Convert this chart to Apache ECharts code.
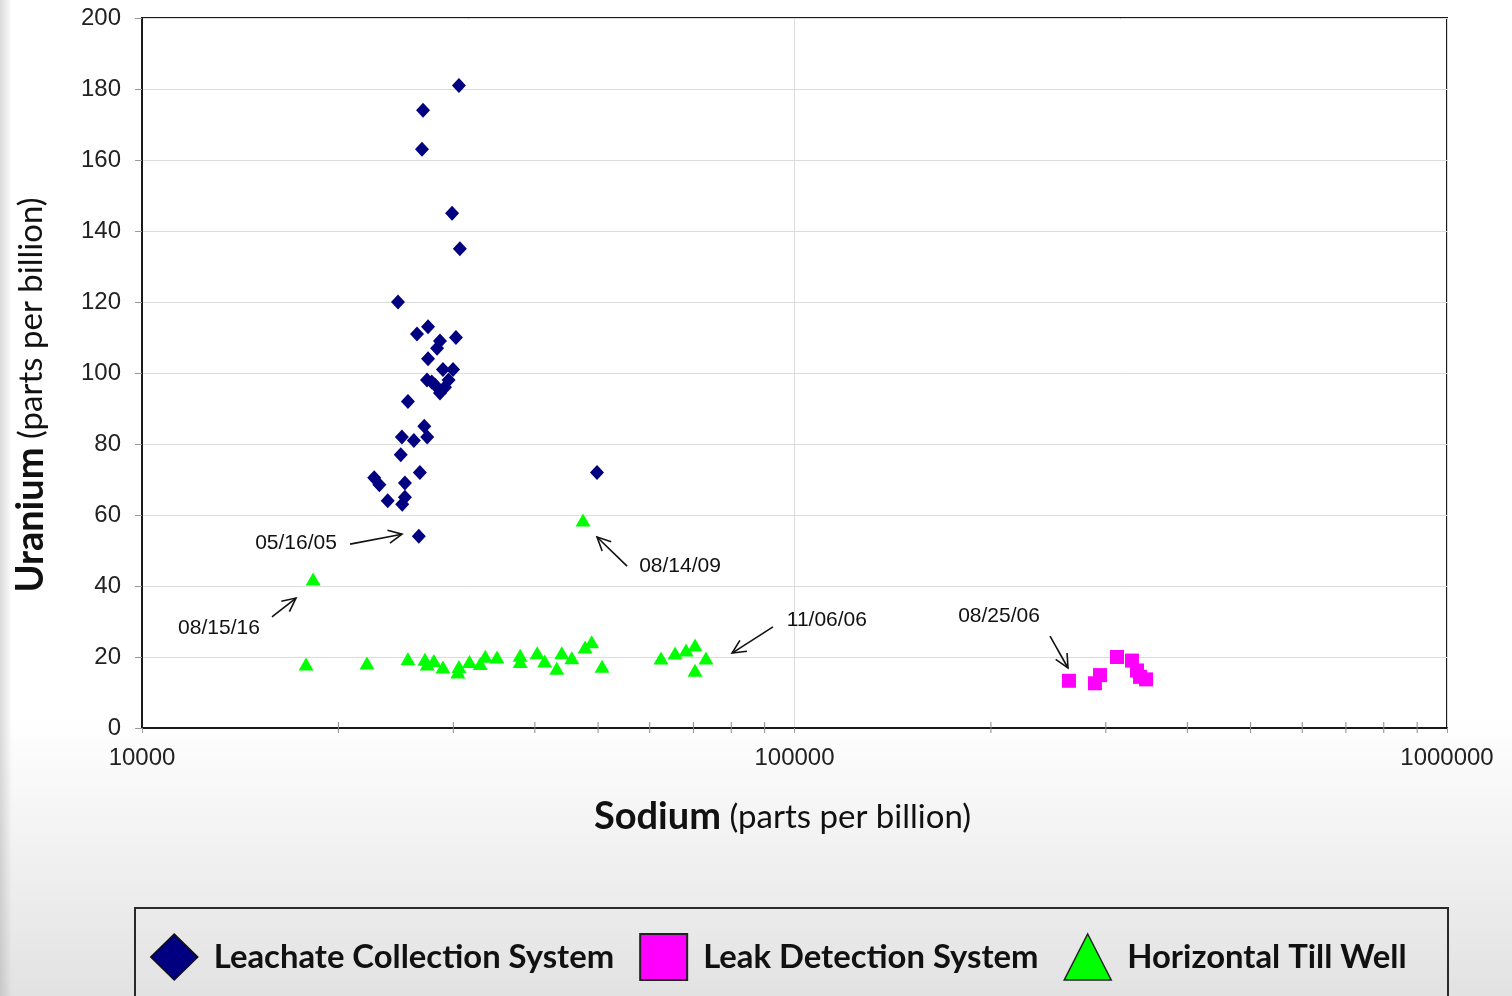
<!DOCTYPE html>
<html>
<head>
<meta charset="utf-8">
<script src="https://cdn.jsdelivr.net/npm/echarts@6/dist/echarts.min.js"></script>
<style>
html,body{margin:0;padding:0;width:1512px;height:996px;overflow:hidden;background:#fff;}
#chart{width:1512px;height:996px;}
</style>
</head>
<body>
<div id="chart"></div>
<script>
// ---- Data ----
const seriesNames = ['Leachate Collection System', 'Leak Detection System', 'Horizontal Till Well'];

const leachateSodium = [30600, 26960, 26860, 29870, 30700, 24680, 27440, 26390, 30280, 28620, 28330, 27440, 29970, 28920,
  27340, 28120, 29130, 28620, 27800, 29500, 25560, 27080, 27360, 25020, 26100, 24920, 26660, 22690, 23110, 25290,
  25290, 23800, 25050, 26560, 49810];
const leachateUranium = [181, 174, 163, 145, 135, 120, 113, 111, 110, 109, 107, 104, 101, 101,
  98, 96.6, 96, 94.4, 97.5, 98, 92, 85, 82, 82, 81, 77, 72, 70.5, 68.5, 69,
  65, 64, 63, 54, 72];

const leakSodium = [263400, 288700, 293900, 312100, 329000, 334900, 338500, 345800];
const leakUranium = [13.3, 12.6, 14.9, 20, 19, 16.2, 14.4, 13.7];

const tillSodium = [18290, 17840, 22120, 25560, 27140, 27360, 28010, 28920, 30600, 30480, 31760, 32990, 33580, 35000,
  37980, 37980, 40330, 41410, 43990, 43220, 45570, 47760, 48880, 50710, 47410,
  62430, 65610, 68200, 70400, 73170, 70400];
const tillUranium = [42, 18, 18.3, 19.5, 19.4, 18, 19, 17.2, 17.3, 15.8, 18.7, 18.2, 20.2, 20,
  20.5, 18.7, 21.2, 18.9, 21.2, 16.8, 19.8, 22.8, 24.3, 17.4, 58.6,
  19.7, 21.1, 22, 23.4, 19.7, 16.3];

// Annotations (data coordinates)
const annLabels = ['05/16/05', '08/14/09', '08/15/16', '11/06/06', '08/25/06'];
const annTextX = [17220, 66770, 13120, 112100, 205800];
const annTextY = [52.1, 45.6, 28.2, 30.4, 31.5];
const arrowFromX = [20840, 55380, 15820, 92690, 246400];
const arrowFromY = [51.8, 45.6, 31.3, 28.5, 25.9];
const arrowToX = [25030, 49810, 17220, 80230, 262500];
const arrowToY = [54.6, 53.8, 36.6, 21.1, 16.9];

// Axis ticks
const xMin = 10000, xMax = 1000000;
const yMin = 0, yMax = 200, yInterval = 20;
const minorTickValues = [20000, 30000, 40000, 50000, 60000, 70000, 80000, 90000,
  200000, 300000, 400000, 500000, 600000, 700000, 800000, 900000];

// ---- Build ----
const zip = (a, b) => a.map((v, i) => [v, b[i]]);
const colors = ['#000080', '#ff00ff', '#00ff00'];
const sansCal = 'Lato, "Open Sans", sans-serif';
const sansAr = '"Liberation Sans", Arial, sans-serif';

const chart = echarts.init(document.getElementById('chart'), null, {renderer: 'canvas'});

const titleRich = {
  b: {fontFamily: sansCal, fontWeight: 'bold', fontSize: 38, color: '#111'},
  n: {fontFamily: sansCal, fontWeight: 'normal', fontSize: 33, color: '#111'}
};

const option = {
  animation: false,
  backgroundColor: {
    type: 'linear', x: 0, y: 0, x2: 0, y2: 1,
    colorStops: [
      {offset: 0, color: '#ffffff'},
      {offset: 0.72, color: '#ffffff'},
      {offset: 1, color: '#e2e2e2'}
    ]
  },
  grid: {
    left: 142, right: 65, top: 18, bottom: 268,
    show: true, backgroundColor: '#ffffff', borderColor: '#1a1a1a', borderWidth: 2
  },
  xAxis: {
    type: 'log', logBase: 10, min: xMin, max: xMax,
    name: '{b|Sodium}{n| (parts per billion)}',
    nameLocation: 'middle', nameGap: 70,
    nameTextStyle: {rich: titleRich, padding: [0, 24, 0, 0]},
    axisLine: {show: true, lineStyle: {color: '#1a1a1a', width: 2}},
    axisTick: {show: true, length: 5, lineStyle: {color: '#999'}},
    axisLabel: {
      fontFamily: sansAr, fontSize: 24, color: '#222', margin: 18,
      formatter: v => String(Math.round(v))
    },
    splitLine: {show: true, lineStyle: {color: '#dcdcdc', width: 1}},
    minorTick: {show: false}
  },
  yAxis: {
    type: 'value', min: yMin, max: yMax, interval: yInterval,
    name: '{b|Uranium}{n| (parts per billion)}',
    nameLocation: 'middle', nameGap: 92,
    nameTextStyle: {rich: titleRich, padding: [0, 44, 0, 0]},
    axisLine: {show: true, lineStyle: {color: '#1a1a1a', width: 2}},
    axisTick: {show: true, length: 7, lineStyle: {color: '#999'}},
    axisLabel: {fontFamily: sansAr, fontSize: 24, color: '#222', margin: 21},
    splitLine: {show: true, lineStyle: {color: '#dcdcdc', width: 1}}
  },
  legend: {
    show: true,
    left: 150, top: 933, padding: 0,
    orient: 'horizontal',
    itemWidth: 47, itemHeight: 46, itemGap: 25,
    textStyle: {fontFamily: sansCal, fontWeight: 'bold', fontSize: 32.8, color: '#111', padding: [0, 0, 0, 11]},
    data: [
      {name: seriesNames[0], icon: 'diamond', itemStyle: {color: colors[0], opacity: 1, borderColor: '#111', borderWidth: 1.5}},
      {name: seriesNames[1], icon: 'rect', itemStyle: {color: colors[1], opacity: 1, borderColor: '#222', borderWidth: 2}},
      {name: seriesNames[2], icon: 'triangle', itemStyle: {color: colors[2], opacity: 1, borderColor: '#222', borderWidth: 1.5}}
    ],
    selectedMode: false
  },
  graphic: [
    {
      type: 'rect', left: 134, top: 907, z: 0, silent: true,
      shape: {width: 1313, height: 130},
      style: {fill: 'transparent', stroke: '#2a2a2a', lineWidth: 2}
    },
    {
      type: 'rect', left: 0, top: 0, z: -1, silent: true,
      shape: {width: 12, height: 996},
      style: {
        fill: {
          type: 'linear', x: 0, y: 0, x2: 1, y2: 0,
          colorStops: [{offset: 0, color: 'rgba(150,150,150,0.35)'}, {offset: 1, color: 'rgba(150,150,150,0)'}]
        }
      }
    }
  ],
  series: [
    {
      name: seriesNames[1], type: 'scatter', symbol: 'rect', symbolSize: 14,
      itemStyle: {color: colors[1], opacity: 1}, data: zip(leakSodium, leakUranium), z: 3
    },
    {
      name: seriesNames[2], type: 'scatter', symbol: 'triangle', symbolSize: [15, 13],
      itemStyle: {color: colors[2], opacity: 1}, data: zip(tillSodium, tillUranium), z: 3
    },
    {
      name: seriesNames[0], type: 'scatter', symbol: 'diamond', symbolSize: [14, 15],
      itemStyle: {color: colors[0], opacity: 1}, data: zip(leachateSodium, leachateUranium), z: 4
    },
    {
      name: 'minorTicks', type: 'custom', silent: true, z: 5,
      data: minorTickValues.map(v => [v, 0]),
      encode: {x: 0, y: 1},
      renderItem: (params, api) => {
        const p = api.coord([api.value(0), 0]);
        return {
          type: 'line',
          shape: {x1: p[0], y1: p[1] - 6, x2: p[0], y2: p[1] + 5},
          style: {stroke: '#8a8a8a', lineWidth: 1}
        };
      }
    },
    {
      name: 'arrows', type: 'custom', silent: true, z: 6,
      data: arrowFromX.map((v, i) => [v, arrowFromY[i], arrowToX[i], arrowToY[i]]),
      encode: {x: [0, 2], y: [1, 3]},
      renderItem: (params, api) => {
        const a = api.coord([api.value(0), api.value(1)]);
        const b = api.coord([api.value(2), api.value(3)]);
        const ang = Math.atan2(b[1] - a[1], b[0] - a[0]);
        const L = 15, w = 0.45;
        const h1 = [b[0] - L * Math.cos(ang - w), b[1] - L * Math.sin(ang - w)];
        const h2 = [b[0] - L * Math.cos(ang + w), b[1] - L * Math.sin(ang + w)];
        const st = {stroke: '#111', lineWidth: 1.6, fill: null};
        return {
          type: 'group',
          children: [
            {type: 'line', shape: {x1: a[0], y1: a[1], x2: b[0], y2: b[1]}, style: st},
            {type: 'polyline', shape: {points: [h1, b, h2]}, style: st}
          ]
        };
      }
    },
    {
      name: 'annLabels', type: 'custom', silent: true, z: 6,
      data: annTextX.map((v, i) => [v, annTextY[i]]),
      encode: {x: 0, y: 1},
      renderItem: (params, api) => {
        const p = api.coord([api.value(0), api.value(1)]);
        return {
          type: 'text', x: p[0], y: p[1],
          style: {
            text: annLabels[params.dataIndex],
            font: '21px "Liberation Sans", Arial, sans-serif',
            fill: '#111', align: 'center', verticalAlign: 'middle'
          }
        };
      }
    }
  ]
};
chart.setOption(option);
</script>
</body>
</html>
